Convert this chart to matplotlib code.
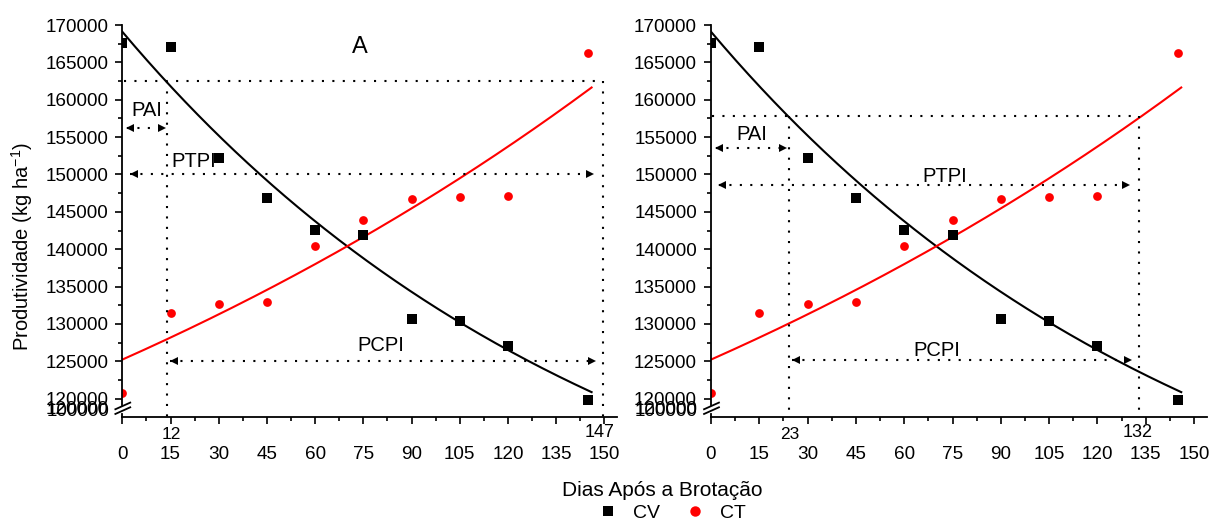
import numpy as np
import matplotlib.pyplot as plt
from matplotlib.ticker import MultipleLocator, StrMethodFormatter

plt.rcParams['font.family'] = ['Liberation Sans', 'DejaVu Sans']
plt.rcParams['mathtext.fontset'] = 'custom'
plt.rcParams['mathtext.rm'] = 'Liberation Sans'

# dados
dias = [0, 15, 30, 45, 60, 75, 90, 105, 120, 145]
cv = [167550, 167090, 152270, 146850, 142520, 141940, 130680, 130370, 127010, 119870]
ct = [120760, 131490, 132690, 133000, 140380, 143950, 146760, 146940, 147120, 166200]

# ajuste y = c + a*exp(b*x)
cv_fit = (90000, 79100, -0.006443)
ct_fit = (70000, 55230, 0.003468)
fit_end = 146

# linhas de referencia de cada painel
ref_y = [162490, 157800]
x_pai = [13.9, 24.2]
x_fim = [149.6, 133.0]
pai_y = [156230, 153510]
ptpi_y = [150030, 148550]
pcpi_y = [125100, 125230]
lab_ini = ['12', '23']
lab_fim = ['147', '132']
lab_ini_x = [15.2, 24.5]
lab_fim_x = [148.5, 132.6]
pai_txt = [(7.7, 158610), (12.7, 155400)]
ptpi_txt = [(22.3, 151680), (72.7, 149770)]
pcpi_txt = [(80.3, 127100), (70.0, 126400)]

W, H = 1216, 522
fig = plt.figure(figsize=(W / 100, H / 100), dpi=100)
ax1 = fig.add_axes([122.3 / W, 1 - 416.7 / H, 495 / W, 391.7 / H])
ax2 = fig.add_axes([711 / W, 1 - 416.7 / H, 496 / W, 391.7 / H])

dot = (0, (1, 4))
xx = np.linspace(0, fit_end, 300)


def arrow_head(ax, x, y, side):
    if side == 'l':
        ax.plot(x + 1.1, y, marker='<', ms=6, color='k', mew=0, clip_on=False)
    else:
        ax.plot(x - 1.1, y, marker='>', ms=6, color='k', mew=0, clip_on=False)


for i, ax in enumerate([ax1, ax2]):
    ax.plot(xx, cv_fit[0] + cv_fit[1] * np.exp(cv_fit[2] * xx), color='black', lw=1.5)
    ax.plot(xx, ct_fit[0] + ct_fit[1] * np.exp(ct_fit[2] * xx), color='red', lw=1.5)
    ax.plot(dias, cv, 's', color='black', ms=6.5, mew=0)
    ax.plot(dias, ct, 'o', color='red', ms=6.3, mew=0)

    ax.set_xlim(0, 154)
    ax.set_ylim(117590, 170000)

    # linhas pontilhadas
    kw = dict(color='black', lw=1.5, ls=dot, clip_on=False)
    ax.plot([0.4, x_fim[i]], [ref_y[i], ref_y[i]], **kw)
    ax.plot([x_pai[i], x_pai[i]], [ref_y[i], 117590], **kw)
    ax.plot([x_fim[i], x_fim[i]], [ref_y[i], 117590], **kw)
    ax.plot([1.4, x_pai[i] - 0.6], [pai_y[i], pai_y[i]], **kw)
    ax.plot([2.4, x_fim[i] - 3], [ptpi_y[i], ptpi_y[i]], **kw)
    ax.plot([x_pai[i] + 1, x_fim[i] - 2.4], [pcpi_y[i], pcpi_y[i]], **kw)
    arrow_head(ax, 1.4, pai_y[i], 'l')
    arrow_head(ax, x_pai[i] - 0.6, pai_y[i], 'r')
    arrow_head(ax, 2.4, ptpi_y[i], 'l')
    arrow_head(ax, x_fim[i] - 3, ptpi_y[i], 'r')
    arrow_head(ax, x_pai[i] + 1, pcpi_y[i], 'l')
    arrow_head(ax, x_fim[i] - 2.4, pcpi_y[i], 'r')

    ax.text(*pai_txt[i], 'PAI', fontsize=14.5, ha='center', va='center')
    ax.text(*ptpi_txt[i], 'PTPI', fontsize=14.5, ha='center', va='center')
    ax.text(*pcpi_txt[i], 'PCPI', fontsize=14.5, ha='center', va='center')

    for s in ['top', 'right']:
        ax.spines[s].set_visible(False)
    ax.spines['left'].set_bounds(119100, 170000)
    ax.spines['bottom'].set_linewidth(1.3)
    ax.spines['left'].set_linewidth(1.3)

    ax.xaxis.set_major_locator(MultipleLocator(15))
    ax.xaxis.set_minor_locator(MultipleLocator(7.5))
    ax.yaxis.set_major_locator(MultipleLocator(5000))
    ax.yaxis.set_minor_locator(MultipleLocator(2500))
    ax.yaxis.set_major_formatter(StrMethodFormatter('{x:.0f}'))
    ax.tick_params(which='major', length=5, width=1.2, labelsize=13.6)
    ax.tick_params(which='minor', length=3, width=1.2)
    ax.tick_params(axis='x', which='major', pad=16)
    ax.tick_params(axis='y', which='major', pad=5)

    # quebra do eixo
    ax.plot([0, 0], [0, 0.008], color='black', lw=1.3, transform=ax.transAxes, clip_on=False)
    ax.plot([-0.014, 0.016], [0.007, 0.024], color='black', lw=1.3, transform=ax.transAxes, clip_on=False)
    ax.plot([-0.014, 0.016], [0.019, 0.036], color='black', lw=1.3, transform=ax.transAxes, clip_on=False)
    for lab, dy in [('100000', 0.014), ('120000', 0.019)]:
        ax.annotate(lab, xy=(0, dy), xycoords='axes fraction', xytext=(-9.5, 0),
                    textcoords='offset points', ha='right', va='center', fontsize=13.6)

    ax.annotate(lab_ini[i], xy=(lab_ini_x[i], 0), xycoords=('data', 'axes fraction'),
                xytext=(0, -13), textcoords='offset points', ha='center', va='center', fontsize=12.5)
    ax.annotate(lab_fim[i], xy=(lab_fim_x[i], 0), xycoords=('data', 'axes fraction'),
                xytext=(0, -11.5), textcoords='offset points', ha='center', va='center', fontsize=13)

ax1.text(74, 167100, 'A', fontsize=17, ha='center', va='center')

fig.text(22 / W, 1 - 247 / H, 'Produtividade (kg ha$^{\\mathregular{-1}}$)', rotation=90,
         ha='center', va='center', fontsize=14.5)
fig.text(662 / W, 1 - 490 / H, 'Dias Após a Brotação', ha='center', va='center', fontsize=15)

h1, = ax1.plot([], [], 's', color='black', ms=6.5, mew=0)
h2, = ax1.plot([], [], 'o', color='red', ms=7.5, mew=0)
fig.legend([h1, h2], ['CV', 'CT'], loc='center', bbox_to_anchor=(672 / W, 1 - 513 / H), ncol=2,
           frameon=False, fontsize=14, handlelength=1.0, handletextpad=0.8, columnspacing=1.3,
           borderpad=0)

fig.savefig('out.png', dpi=100)
